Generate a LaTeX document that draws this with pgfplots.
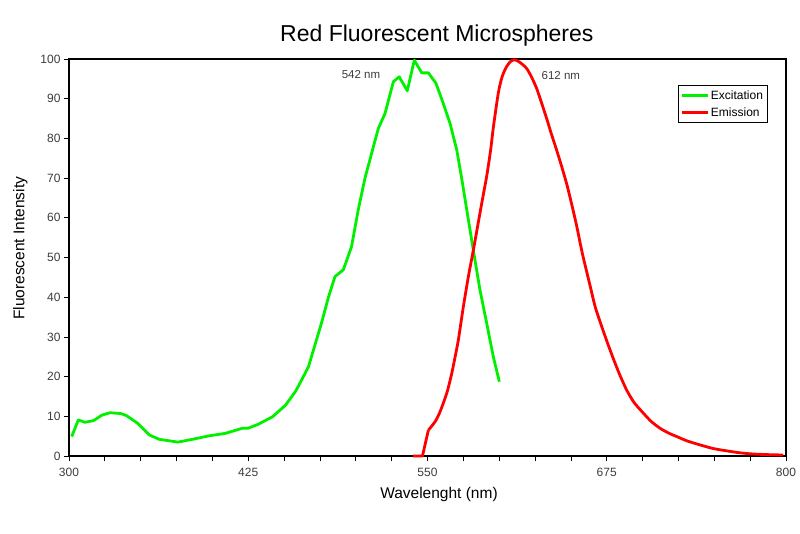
\documentclass[border=0pt]{standalone}
\usepackage{fontspec}
\setmainfont{Liberation Sans}
\usepackage{pgfplots}
\pgfplotsset{compat=1.18}
\definecolor{exgreen}{RGB}{0,240,0}
\definecolor{emred}{RGB}{255,0,0}
\definecolor{txtgray}{RGB}{60,60,60}
\begin{document}
\begin{tikzpicture}
\begin{axis}[
  name=ax,
  scale only axis,
  width=717pt, height=397pt,
  xmin=300, xmax=800, ymin=0, ymax=100,
  clip=false,
  axis line style={line width=2pt},
  tick align=outside,
  tick pos=left,
  major tick length=5pt,
  minor tick length=5pt,
  tick style={line width=0.8pt, black},
  xtick={300,425,550,675,800},
  minor xtick={325,350,375,400,450,475,500,525,575,600,625,650,700,725,750,775},
  ytick={0,10,...,100},
  /pgf/number format/assume math mode=true,
  ticklabel style={font=\fontsize{12}{14}\selectfont, text=txtgray},
  xticklabel style={yshift=-4pt},
  title={Red Fluorescent Microspheres},
  title style={font=\fontsize{23}{26}\selectfont, at={(axis description cs:0.513,1.030)}, anchor=base},
  xlabel={Wavelenght (nm)},
  xlabel style={font=\fontsize{15.5}{18}\selectfont, at={(axis description cs:0.516,-0.108)}, anchor=base},
  ylabel={Fluorescent Intensity},
  ylabel style={font=\fontsize{15.5}{18}\selectfont, at={(axis description cs:-0.068,0.523)}, anchor=center},
  legend style={at={(axis description cs:0.849,0.9345)}, anchor=north west,
    font=\fontsize{12}{14}\selectfont, draw=black, line width=0.8pt,
    inner xsep=2pt, inner ysep=3pt, row sep=3pt},
  legend cell align=left,
  legend image code/.code={\draw[#1, line width=2.8pt] (0pt,0pt) -- (26pt,0pt);},
]
\addplot[exgreen, line width=2.8pt, line join=round] coordinates {
(301.9,4.9) (306.5,9.1) (311,8.5) (317,8.9) (323,10.3) (328.6,10.9) (336,10.7)
(340,10.2) (348,8.2) (356,5.3) (363,4.2) (376,3.5) (386,4.2) (398,5.1) (409,5.7)
(421,7.0) (425,7.0) (432,8.0) (442,9.9) (451,12.8) (458,16.3) (461,18.3) (467,22.5)
(476,33.4) (481,40.1) (485.5,45.2) (491.3,46.9) (497,52.7) (501.7,62) (506.4,70)
(515.7,82.5) (520.4,86.3) (526.2,94.3) (530.3,95.5) (535.9,92) (540.8,99.7)
(546,96.5) (550.6,96.5) (555.9,93.9) (561,88.8) (565.7,83.8) (570.4,77.1)
(573.8,70) (580.8,54.4) (586.6,41.8) (591.3,33.4) (595.9,25) (600.1,18.7)
};
\addlegendentry{Excitation}
\addplot[emred, line width=2.8pt, line join=round] coordinates {
(540,0) (546.5,0) (550.6,6.5)
};
\addplot[emred, line width=2.8pt, line join=round, smooth, tension=0.4, forget plot] coordinates {
(550.6,6.5) (555.2,8.6) (558,10.5) (561,13.3) (564,16.5)
(566.9,20.8) (569,24.5) (571.5,29.2) (575,37.6) (578.5,45.2) (582,51.9) (586,60)
(589,66) (591.3,70.5) (594,77) (596,83) (599.4,91.5) (602,95.5) (605,98)
(608,99.4) (610.5,99.8) (613,99.5) (616,98.7) (619.2,97.6) (622.5,95.5)
(626.1,92.6) (629.5,89) (633.1,85) (636.5,81) (640.1,77) (643.5,73) (647.1,68.5)
(650.5,63.5) (654,58) (658,51) (663.3,43) (667,37.5) (671.5,32.6) (675.5,28.5)
(679.6,24.5) (684,20.5) (688.9,16.6) (694,13.5) (700.5,10.8) (706,8.7) (712.1,7.0)
(718,5.8) (723.8,4.9) (731,3.8) (740,2.8) (749,1.9) (758.6,1.3) (768,0.8)
(777.2,0.5) (787,0.35) (798,0.25)
};
\addlegendimage{emred, line width=2.8pt}
\addlegendentry{Emission}
\node[font=\fontsize{11.5}{13}\selectfont, text=txtgray] at (axis cs:503.6,96) {542 nm};
\node[font=\fontsize{11.5}{13}\selectfont, text=txtgray] at (axis cs:643,95.8) {612 nm};
\end{axis}
\pgfresetboundingbox
\path[use as bounding box] ([shift={(-69pt,-77pt)}]ax.south west) rectangle ([shift={(731pt,456pt)}]ax.south west);
\end{tikzpicture}
\end{document}
